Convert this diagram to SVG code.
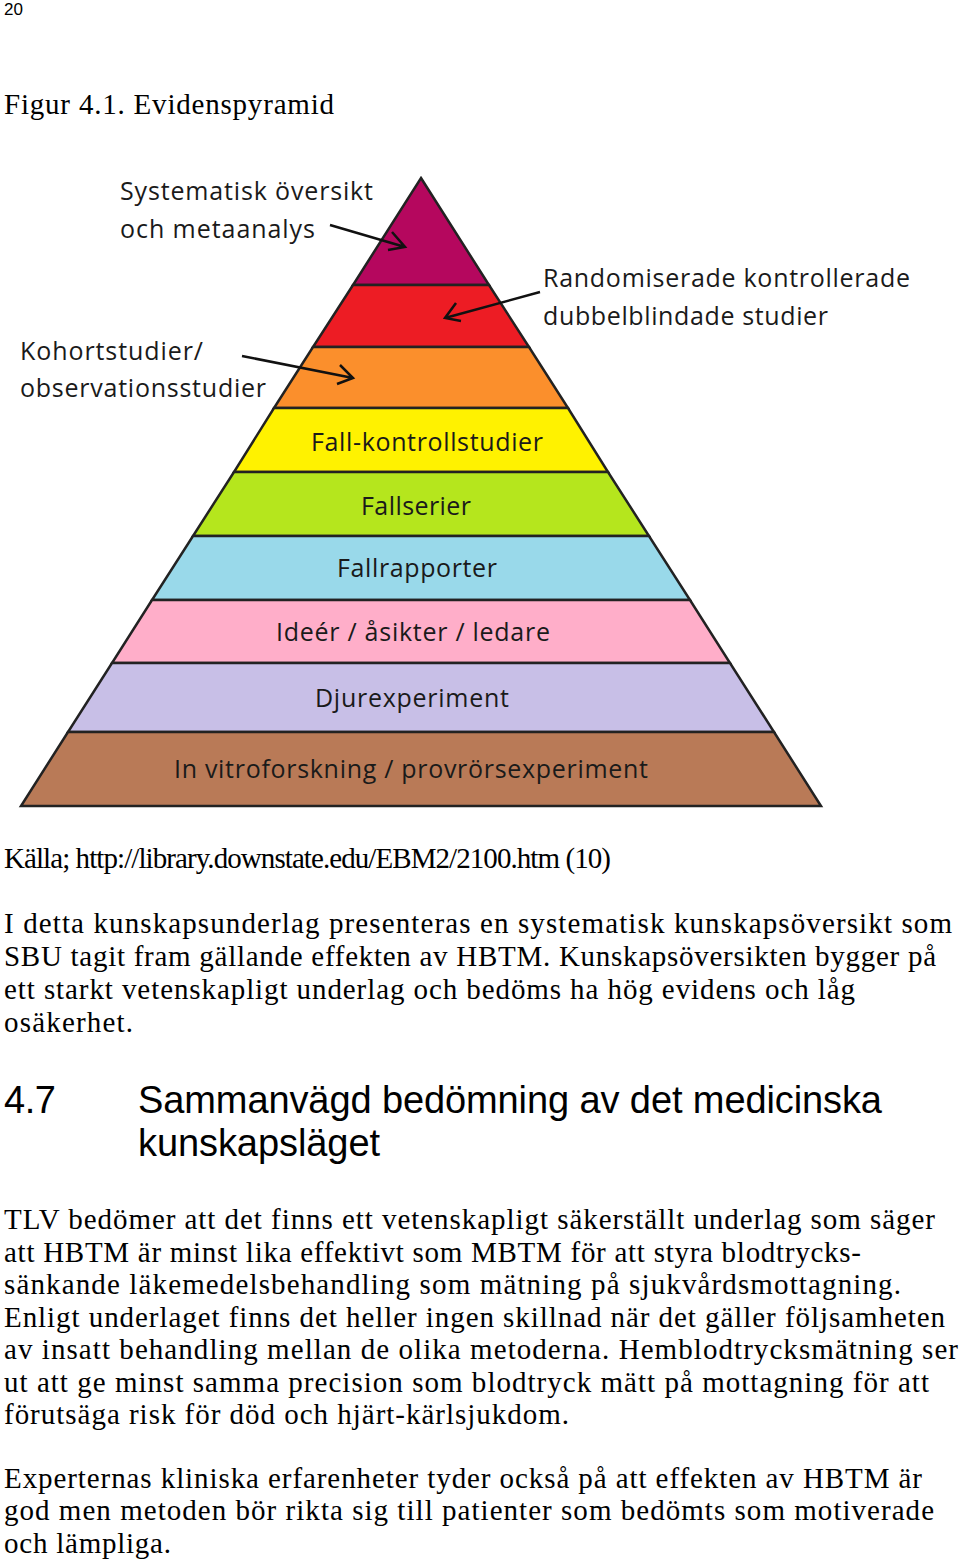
<svg xmlns="http://www.w3.org/2000/svg" width="960" height="1561" viewBox="0 0 960 1561">
<style>
.b{font-family:"Liberation Serif",serif;font-size:29px;fill:#000}
.l{font-family:"Open Sans","Noto Sans",sans-serif;font-size:25px;fill:#1a1a1a}
.h{font-family:"Liberation Sans",Arial,sans-serif;font-size:38px;fill:#000}
.band{stroke:#222;stroke-width:2.5}
.ar{stroke:#111;stroke-width:2.5;fill:none}
</style>
<rect width="960" height="1561" fill="#fff"/>
<text x="4" y="15" font-family="Liberation Sans,sans-serif" font-size="17">20</text>
<text class="b" x="4" y="114" textLength="330">Figur 4.1. Evidenspyramid</text>
<g id="pyramid">
<polygon class="band" fill="#b5075e" points="421,178 489,285 353,285"/>
<polygon class="band" fill="#ed1c24" points="353,285 489,285 529,347 313,347"/>
<polygon class="band" fill="#fb8f2c" points="313,347 529,347 568,408 274,408"/>
<polygon class="band" fill="#fff200" points="274,408 568,408 608,472 234,472"/>
<polygon class="band" fill="#b5e61d" points="234,472 608,472 649,536 193,536"/>
<polygon class="band" fill="#99d9ea" points="193,536 649,536 690,600 152,600"/>
<polygon class="band" fill="#ffaec9" points="152,600 690,600 730,663 112,663"/>
<polygon class="band" fill="#c8bfe7" points="112,663 730,663 774,732 68,732"/>
<polygon class="band" fill="#b97a57" points="68,732 774,732 821,806 21,806"/>
</g>
<g id="labels">
<text class="l" x="427" y="451" text-anchor="middle" textLength="232">Fall-kontrollstudier</text>
<text class="l" x="416" y="515" text-anchor="middle" textLength="110">Fallserier</text>
<text class="l" x="417" y="577" text-anchor="middle" textLength="160">Fallrapporter</text>
<text class="l" x="413" y="641" text-anchor="middle" textLength="274">Ideér / åsikter / ledare</text>
<text class="l" x="412" y="707" text-anchor="middle" textLength="194">Djurexperiment</text>
<text class="l" x="411" y="778" text-anchor="middle" textLength="474">In vitroforskning / provrörsexperiment</text>
<text class="l" x="120" y="200" textLength="253">Systematisk översikt</text>
<text class="l" x="120" y="238" textLength="195">och metaanalys</text>
<text class="l" x="543" y="287" textLength="367">Randomiserade kontrollerade</text>
<text class="l" x="543" y="325" textLength="285">dubbelblindade studier</text>
<text class="l" x="20" y="360" textLength="183">Kohortstudier/</text>
<text class="l" x="20" y="397" textLength="246">observationsstudier</text>
</g>
<g id="connectors">
<path class="ar" d="M330,225 L405,247 M392,232 L405,247 L388,250"/>
<path class="ar" d="M540,292 L445,318 M456,303 L445,318 L461,321"/>
<path class="ar" d="M242,356 L353,378 M340,365 L353,378 L337,384"/>
</g>
<text class="b" font-size="24" x="4" y="868" textLength="607">Källa; http://library.downstate.edu/EBM2/2100.htm (10)</text>
<text class="b" x="4" y="933" textLength="948">I detta kunskapsunderlag presenteras en systematisk kunskapsöversikt som</text>
<text class="b" x="4" y="966" textLength="932">SBU tagit fram gällande effekten av HBTM. Kunskapsöversikten bygger på</text>
<text class="b" x="4" y="999" textLength="851">ett starkt vetenskapligt underlag och bedöms ha hög evidens och låg</text>
<text class="b" x="4" y="1032" textLength="129">osäkerhet.</text>
<text class="h" x="4" y="1113" textLength="52">4.7</text>
<text class="h" x="138" y="1113" textLength="744">Sammanvägd bedömning av det medicinska</text>
<text class="h" x="138" y="1156" textLength="242">kunskapsläget</text>
<text class="b" x="4" y="1229" textLength="931">TLV bedömer att det finns ett vetenskapligt säkerställt underlag som säger</text>
<text class="b" x="4" y="1262" textLength="857">att HBTM är minst lika effektivt som MBTM för att styra blodtrycks-</text>
<text class="b" x="4" y="1294" textLength="897">sänkande läkemedelsbehandling som mätning på sjukvårdsmottagning.</text>
<text class="b" x="4" y="1327" textLength="941">Enligt underlaget finns det heller ingen skillnad när det gäller följsamheten</text>
<text class="b" x="4" y="1359" textLength="954">av insatt behandling mellan de olika metoderna. Hemblodtrycksmätning ser</text>
<text class="b" x="4" y="1392" textLength="925">ut att ge minst samma precision som blodtryck mätt på mottagning för att</text>
<text class="b" x="4" y="1424" textLength="565">förutsäga risk för död och hjärt-kärlsjukdom.</text>
<text class="b" x="4" y="1488" textLength="918">Experternas kliniska erfarenheter tyder också på att effekten av HBTM är</text>
<text class="b" x="4" y="1520" textLength="930">god men metoden bör rikta sig till patienter som bedömts som motiverade</text>
<text class="b" x="4" y="1553" textLength="167">och lämpliga.</text>
</svg>
